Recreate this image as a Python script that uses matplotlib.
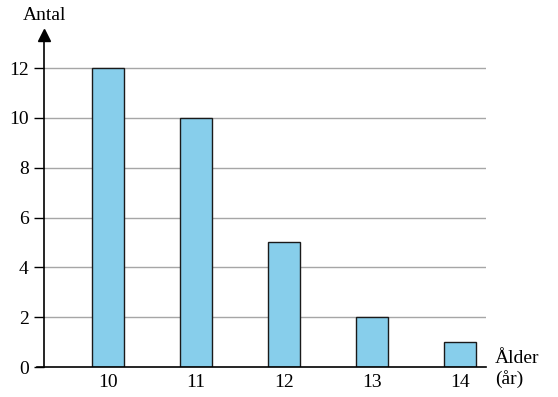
import matplotlib
matplotlib.use("Agg")
import matplotlib.pyplot as plt

ages = ["10", "11", "12", "13", "14"]
counts = [12, 10, 5, 2, 1]
yticks = [0, 2, 4, 6, 8, 10, 12]

plt.rcParams['font.family'] = ['Liberation Serif', 'DejaVu Serif']
FS = 14

fig = plt.figure(figsize=(5.58, 3.97), dpi=100)
ax = fig.add_axes([44/558, 30/397, (486-44)/558, (367-35)/397])

x = list(range(len(ages)))
ax.bar(x, counts, width=0.364, color="#87CEEB", edgecolor="#1a1a1a", linewidth=1.0, zorder=3)

ax.set_xlim(-0.727, 4.295)
ax.set_ylim(0, 13.33)
ax.set_yticks(yticks)
ax.set_yticklabels([str(v) for v in yticks], fontsize=FS)
ax.set_xticks(x)
ax.set_xticklabels(ages, fontsize=FS)
ax.tick_params(axis='x', length=0, pad=5)
ax.tick_params(axis='y', length=7, width=1, direction='out', pad=4, color='black')

for v in yticks[1:]:
    ax.axhline(v, color="#a6a6a6", linewidth=1.0, zorder=1)

for s in ['top', 'right', 'bottom']:
    ax.spines[s].set_visible(False)
ax.spines['left'].set_linewidth(1.2)
ax.spines['left'].set_zorder(4)

# x axis line extending slightly left of y axis
ax.plot([-7/442, 1.0], [0, 0], transform=ax.transAxes, color="black", linewidth=1.2, clip_on=False, zorder=4)
# arrow head on y axis
ax.plot([0], [1.0], marker='^', markersize=9, color='black', transform=ax.transAxes, clip_on=False, zorder=5)

fig.text(23/558, 1 - 20/397, "Antal", fontsize=FS, ha='left', va='baseline')
fig.text(495/558, 1 - 363/397, "Ålder", fontsize=FS, ha='left', va='baseline')
fig.text(495/558, 1 - 384/397, "(år)", fontsize=FS, ha='left', va='baseline')

fig.savefig("out.png", dpi=100)
